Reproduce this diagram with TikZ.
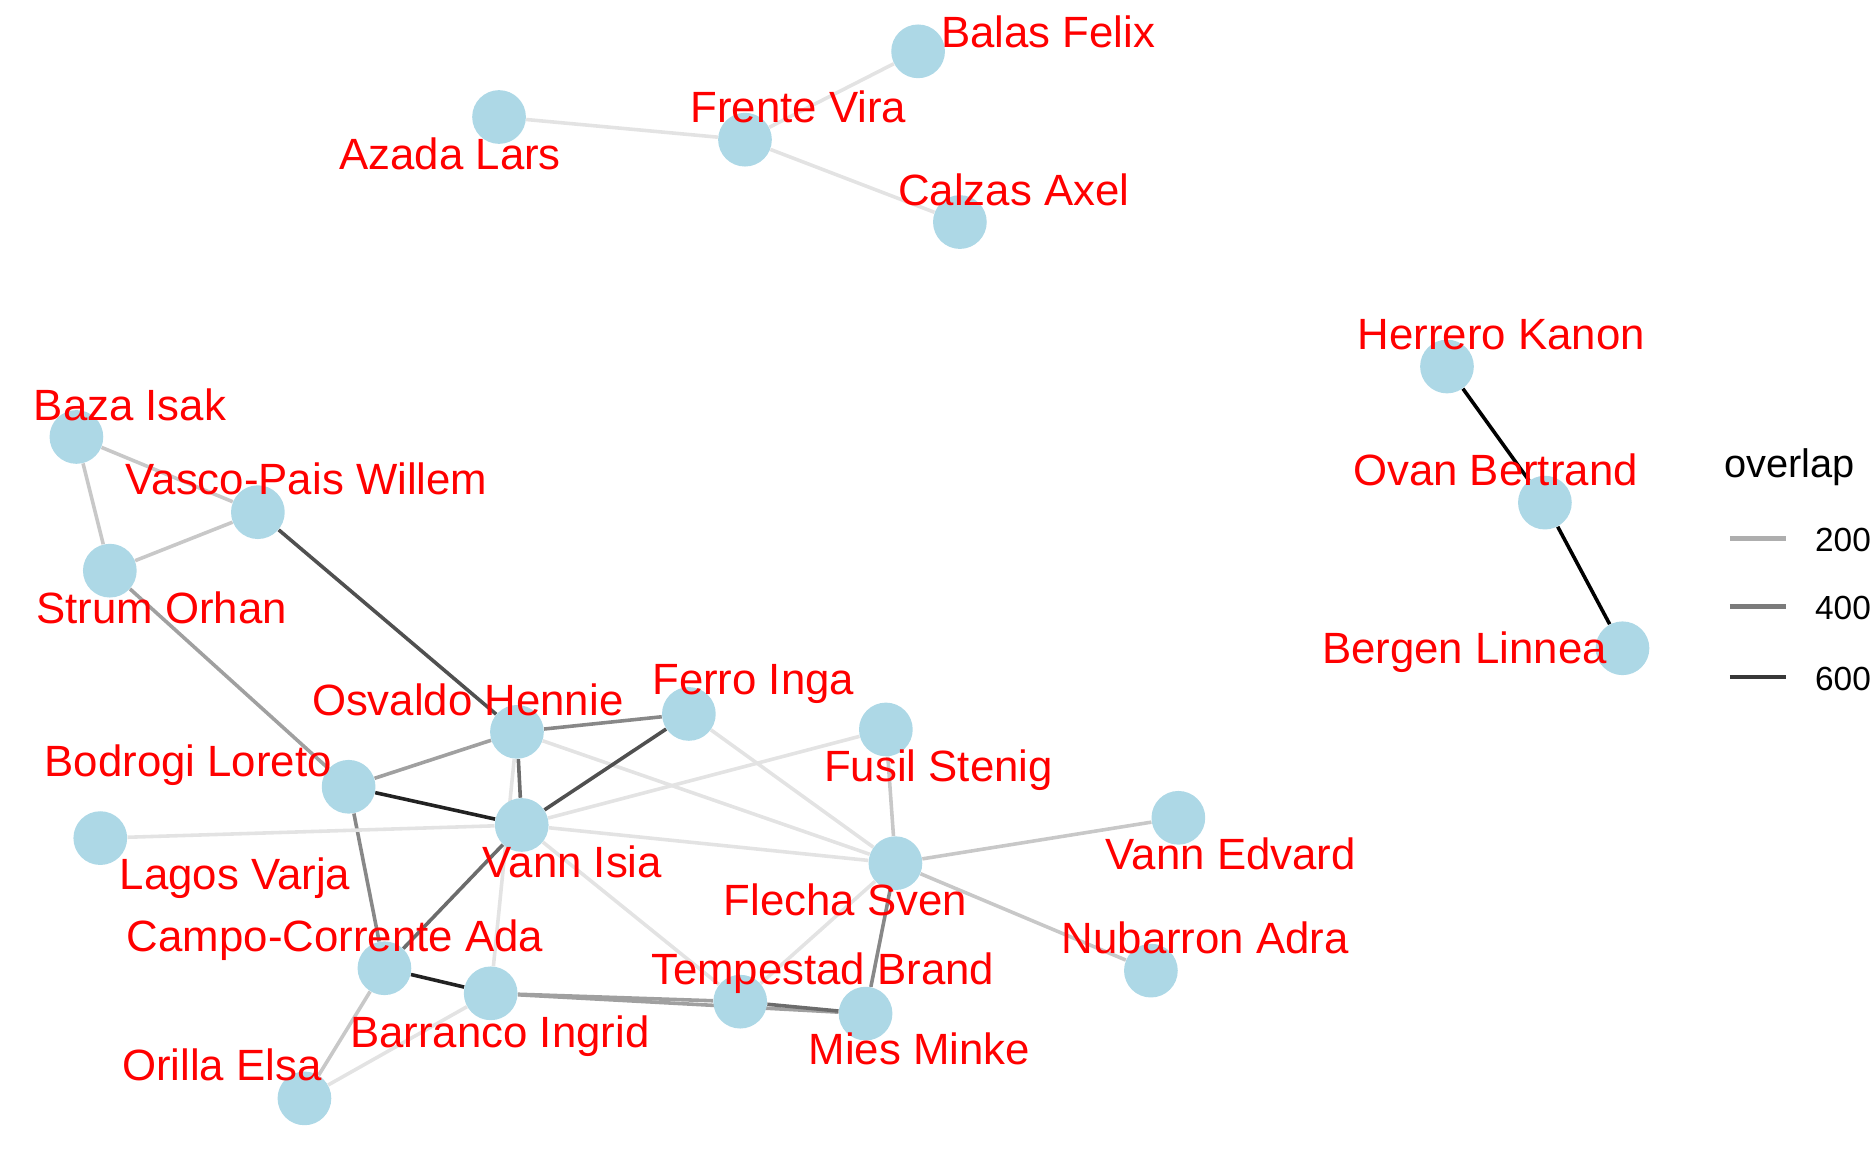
\documentclass[tikz,border=0pt]{standalone}
\usepackage{fontspec}
\setmainfont{Liberation Sans}
\usetikzlibrary{backgrounds}
\definecolor{nodeblue}{HTML}{ADD8E6}
\definecolor{gA}{HTML}{E3E3E3}
\definecolor{gB}{HTML}{C8C8C8}
\definecolor{gC}{HTML}{A0A0A0}
\definecolor{gD}{HTML}{888888}
\definecolor{gE}{HTML}{6C6C6C}
\definecolor{gF}{HTML}{505050}
\definecolor{gG}{HTML}{222222}

\begin{document}
\begin{tikzpicture}[x=0.6pt, y=-0.6pt,
    person/.style={circle, fill=nodeblue, minimum size=27pt, inner sep=0pt},
    lbl/.style={text=red, font=\fontsize{22}{26}\selectfont, anchor=base west, inner sep=0pt},
    tie/.style={line width=1.8pt, draw=#1},
    legtxt/.style={font=\fontsize{16.8}{20}\selectfont, anchor=base west, inner sep=0pt}]
    \useasboundingbox (0,0) rectangle (1568,965);
    \clip (0,0) rectangle (1568,965);

    \node[person] (balas) at (769,43) {};
    \node[person] (frente) at (624,117) {};
    \node[person] (azada) at (418,98) {};
    \node[person] (calzas) at (804,186) {};
    \node[person] (herrero) at (1212,307) {};
    \node[person] (ovan) at (1294,421) {};
    \node[person] (bergen) at (1359,543) {};
    \node[person] (baza) at (64,366) {};
    \node[person] (vasco) at (216,429) {};
    \node[person] (strum) at (92,478) {};
    \node[person] (osvaldo) at (433,613) {};
    \node[person] (ferro) at (577,598) {};
    \node[person] (fusil) at (742,611) {};
    \node[person] (bodrogi) at (292,659) {};
    \node[person] (lagos) at (84,702) {};
    \node[person] (isia) at (437,691) {};
    \node[person] (flecha) at (750,723) {};
    \node[person] (edvard) at (987,685) {};
    \node[person] (nubarron) at (964,813) {};
    \node[person] (campo) at (322,811) {};
    \node[person] (barranco) at (411,832) {};
    \node[person] (tempestad) at (620,839) {};
    \node[person] (mies) at (725,849) {};
    \node[person] (orilla) at (255,920) {};

    \begin{scope}[on background layer]
    \draw[tie=gA] (balas) -- (frente);
    \draw[tie=gA] (azada) -- (frente);
    \draw[tie=gA] (frente) -- (calzas);
    \draw[tie=black] (herrero) -- (ovan);
    \draw[tie=black] (ovan) -- (bergen);
    \draw[tie=gB] (baza) -- (vasco);
    \draw[tie=gB] (baza) -- (strum);
    \draw[tie=gB] (strum) -- (vasco);
    \draw[tie=gF] (vasco) -- (osvaldo);
    \draw[tie=gC] (strum) -- (bodrogi);
    \draw[tie=gC] (bodrogi) -- (osvaldo);
    \draw[tie=gG] (bodrogi) -- (isia);
    \draw[tie=gD] (bodrogi) -- (campo);
    \draw[tie=gD] (osvaldo) -- (ferro);
    \draw[tie=gE] (osvaldo) -- (isia);
    \draw[tie=gA] (osvaldo) -- (flecha);
    \draw[tie=gA] (osvaldo) -- (barranco);
    \draw[tie=gF] (ferro) -- (isia);
    \draw[tie=gA] (ferro) -- (flecha);
    \draw[tie=gA] (fusil) -- (isia);
    \draw[tie=gB] (fusil) -- (flecha);
    \draw[tie=gA] (lagos) -- (isia);
    \draw[tie=gA] (isia) -- (flecha);
    \draw[tie=gE] (isia) -- (campo);
    \draw[tie=gA] (isia) -- (tempestad);
    \draw[tie=gB] (flecha) -- (edvard);
    \draw[tie=gB] (flecha) -- (nubarron);
    \draw[tie=gA] (flecha) -- (tempestad);
    \draw[tie=gD] (flecha) -- (mies);
    \draw[tie=gG] (campo) -- (barranco);
    \draw[tie=gB] (campo) -- (orilla);
    \draw[tie=gA] (barranco) -- (orilla);
    \draw[tie=gC] (barranco) -- (tempestad);
    \draw[tie=gC] (barranco) -- (mies);
    \draw[tie=gE] (tempestad) -- (mies);
    \end{scope}

    \node[lbl] (balas-l) at (788,40) {Balas Felix};
    \node[lbl] (frente-l) at (578,103) {Frente Vira};
    \node[lbl] (azada-l) at (284,142) {Azada Lars};
    \node[lbl] (calzas-l) at (752,172) {Calzas Axel};
    \node[lbl] (herrero-l) at (1137,293) {Herrero Kanon};
    \node[lbl] (ovan-l) at (1133,407) {Ovan Bertrand};
    \node[lbl] (bergen-l) at (1107,556) {Bergen Linnea};
    \node[lbl] (baza-l) at (28,352) {Baza Isak};
    \node[lbl] (vasco-l) at (105,414) {Vasco-Pais Willem};
    \node[lbl] (strum-l) at (30,522) {Strum Orhan};
    \node[lbl] (osvaldo-l) at (261,599) {Osvaldo Hennie};
    \node[lbl] (ferro-l) at (546,582) {Ferro Inga};
    \node[lbl] (fusil-l) at (690,655) {Fusil Stenig};
    \node[lbl] (bodrogi-l) at (37,650) {Bodrogi Loreto};
    \node[lbl] (lagos-l) at (100,745) {Lagos Varja};
    \node[lbl] (isia-l) at (404,735) {Vann Isia};
    \node[lbl] (edvard-l) at (926,728) {Vann Edvard};
    \node[lbl] (flecha-l) at (606,767) {Flecha Sven};
    \node[lbl] (campo-l) at (106,797) {Campo-Corrente Ada};
    \node[lbl] (tempestad-l) at (545,825) {Tempestad Brand};
    \node[lbl] (nubarron-l) at (889,799) {Nubarron Adra};
    \node[lbl] (barranco-l) at (293,877) {Barranco Ingrid};
    \node[lbl] (mies-l) at (677,892) {Mies Minke};
    \node[lbl] (orilla-l) at (102,905) {Orilla Elsa};

    \node[legtxt, font=\fontsize{20}{24}\selectfont] (legtitle) at (1444,400) {overlap};
    \draw[line width=2.2pt, color=gC!85] (1449,451) -- (1496,451);
    \draw[line width=2.2pt, color=gE!90] (1449,508) -- (1496,508);
    \draw[line width=2.2pt, color=gG!90] (1449,567) -- (1496,567);
    \node[legtxt] (leg200) at (1520,462) {200};
    \node[legtxt] (leg400) at (1520,519) {400};
    \node[legtxt] (leg600) at (1520,578) {600};
\end{tikzpicture}
\end{document}
